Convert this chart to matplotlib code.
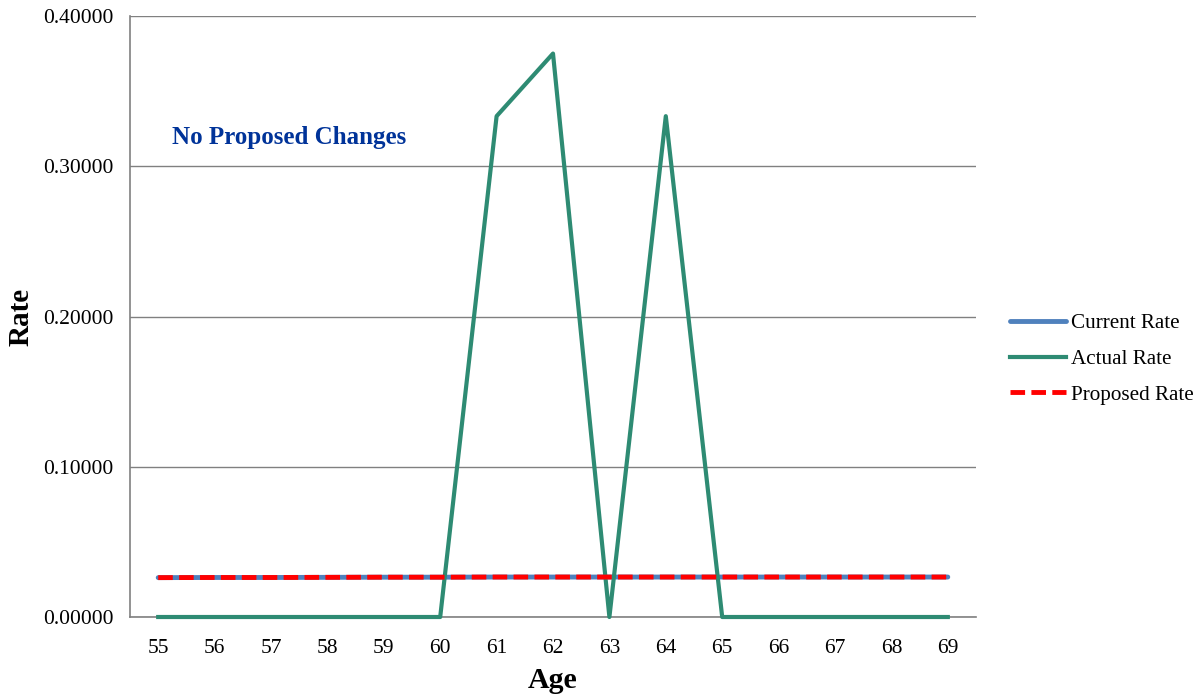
import matplotlib.pyplot as plt
import numpy as np

ages = [55, 56, 57, 58, 59, 60, 61, 62, 63, 64, 65, 66, 67, 68, 69]
current_rate = [0.0262, 0.0263, 0.0263, 0.0264, 0.0265, 0.0265, 0.0266, 0.0266, 0.0266, 0.0266, 0.0266, 0.0266, 0.0266, 0.0266, 0.0266]
actual_rate = [0, 0, 0, 0, 0, 0, 0.33333, 0.375, 0, 0.33333, 0, 0, 0, 0, 0]
proposed_rate = current_rate

plt.rcParams['font.family'] = ['Liberation Serif', 'DejaVu Serif']

fig = plt.figure(figsize=(12, 6.96), dpi=100)
ax = fig.add_axes([130 / 1200, 1 - 617 / 696, 846 / 1200, 601 / 696])

ax.plot(ages, current_rate, color="#4f81bd", linewidth=3.5, label="Current Rate",
        solid_capstyle="round", zorder=3)
ax.plot(ages, actual_rate, color="#2e8b73", linewidth=3, label="Actual Rate",
        clip_on=False, zorder=3)
ax.plot(ages, proposed_rate, color="#ff0000", linewidth=3.5, linestyle=(0, (3, 1.3)),
        label="Proposed Rate", zorder=4)

ax.set_xlim(54.5, 69.5)
ax.set_ylim(0, 0.4)
ax.set_xticks(ages)
ax.set_yticks([0, 0.1, 0.2, 0.3, 0.4])
ax.yaxis.set_major_formatter(plt.FuncFormatter(lambda v, p: f"{v:.5f}"))
ax.tick_params(length=0, labelsize=15.5)
ax.tick_params(axis="x", pad=16)
ax.tick_params(axis="y", pad=12)
ax.grid(axis="y", color="#808080", linewidth=1)
ax.set_axisbelow(True)
for s in ["top", "right"]:
    ax.spines[s].set_visible(False)
for s in ["left", "bottom"]:
    ax.spines[s].set_color("#808080")
    ax.spines[s].set_linewidth(1.2)

ax.set_xlabel("Age", fontsize=21.5, fontweight="bold", labelpad=6)
ax.set_ylabel("Rate", fontsize=21, fontweight="bold")
ax.yaxis.set_label_coords(-95 / 846, 0.5)

ax.text(55.25, 0.319, "No Proposed Changes", color="#003399", fontsize=18, fontweight="bold", va="center")

ax.legend(loc="center left", bbox_to_anchor=(1.0, 0.429), frameon=False, fontsize=15.2,
          handlelength=2.65, labelspacing=0.75, handletextpad=0.25, borderaxespad=1.2)

fig.savefig("out.png", dpi=100)
